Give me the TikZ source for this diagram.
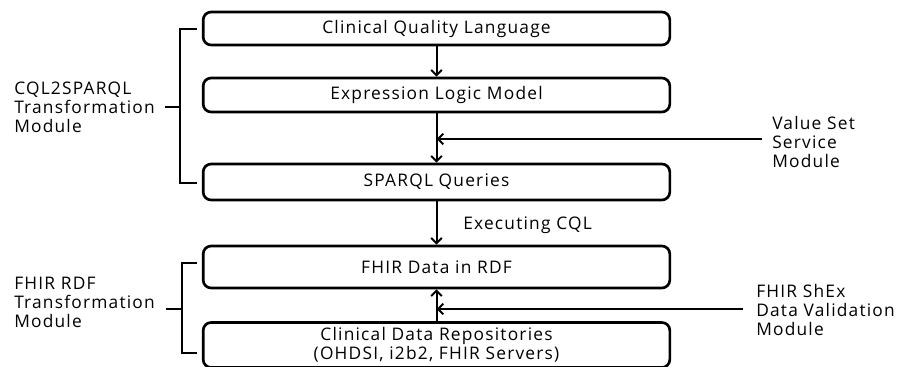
\documentclass[tikz,border=0pt]{standalone}
\usepackage{fontspec}
\setmainfont[LetterSpace=7]{Open Sans}
\usetikzlibrary{arrows.meta,positioning}

\begin{document}
\begin{tikzpicture}[x=0.75pt, y=-0.75pt,
    box/.style={draw, line width=2pt, rounded corners=6pt, minimum width=350pt, inner sep=0pt, align=center, font=\fontsize{13}{14.25}\selectfont},
    flow/.style={line width=1.5pt, -{Straight Barb[length=4pt,width=8pt]}},
    lbl/.style={anchor=west, align=left, inner sep=0pt, font=\fontsize{13}{14.25}\selectfont},
    brk/.style={line width=1.5pt}]
    \useasboundingbox (0,0) rectangle (907,367);
    % processing chain
    \node[box, minimum height=24.75pt] (cql)    at (436.5,28.5) {Clinical Quality Language};
    \node[box, minimum height=25.5pt]  (elm)    at (436.5,95)   {Expression Logic Model};
    \node[box, minimum height=27pt]    (sparql) at (436.5,182)  {SPARQL Queries};
    \node[box, minimum height=31.5pt]  (rdf)    at (436.5,267)  {FHIR Data in RDF};
    \node[box, minimum height=33.75pt] (repo)   at (436.5,345)  {Clinical Data Repositories\\(OHDSI, i2b2, FHIR Servers)};
    \draw[flow] (cql) -- (elm);
    \draw[flow] (elm) -- (sparql);
    \draw[flow] (sparql) -- (rdf);
    \draw[flow] (repo) -- (rdf);
    \node[lbl] (exec) at (463,225) {Executing CQL};
    % side modules
    \coordinate (vs) at (762,139);
    \coordinate (shex) at (743,309);
    \draw[flow] (vs) -- (vs -| elm.south);
    \draw[flow] (shex) -- (shex -| rdf.south);
    \node[lbl] (vsmod)   at (772,142) {Value Set\\Service\\Module};
    \node[lbl] (shexmod) at (756,310) {FHIR ShEx\\Data Validation\\Module};
    % brackets
    \draw[brk] (197,29) -- (180,29) -- (180,183) -- (197,183);
    \draw[brk] (165,107) -- (180,107);
    \draw[brk] (197,263) -- (182,263) -- (182,353) -- (197,353);
    \draw[brk] (166,309) -- (182,309);
    \node[lbl] (cqlmod) at (14,107) {CQL2SPARQL\\Transformation\\Module};
    \node[lbl] (rdfmod) at (14,302) {FHIR RDF\\Transformation\\Module};
\end{tikzpicture}
\end{document}
